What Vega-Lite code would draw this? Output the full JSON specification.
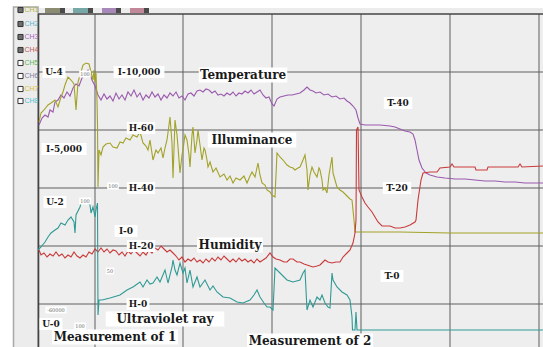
{
  "$schema": "https://vega.github.io/schema/vega-lite/v6.json",
  "width": 543,
  "height": 347,
  "padding": 0,
  "autosize": {"type": "none"},
  "background": "#ffffff",
  "view": {"fill": "#eeeeee", "stroke": null},
  "resolve": {"scale": {"color": "independent"}},
  "datasets": {
    "covers": [
      {"part": "top", "x1": 0, "x2": 543, "y1": 339, "y2": 347},
      {"part": "toolbar", "x1": 38, "x2": 543, "y1": 333.5, "y2": 339},
      {"part": "left", "x1": 0, "x2": 13, "y1": 0, "y2": 347}
    ],
    "panel": [{"x1": 13.5, "x2": 38, "y1": -2, "y2": 340}],
    "grid": [
      {"dir": "v", "pos": 95}, {"dir": "v", "pos": 183}, {"dir": "v", "pos": 272}, {"dir": "v", "pos": 361}, {"dir": "v", "pos": 450}, {"dir": "v", "pos": 539},
      {"dir": "h", "pos": 43}, {"dir": "h", "pos": 101}, {"dir": "h", "pos": 159}, {"dir": "h", "pos": 217}, {"dir": "h", "pos": 275}
    ],
    "borders": [
      {"x1": 38.5, "x2": 38.5, "y1": 0, "y2": 333},
      {"x1": 38, "x2": 543, "y1": 333, "y2": 333}
    ],
    "lines": [
      {"s":"temp","t":39,"v":222},{"s":"temp","t":42,"v":229},{"s":"temp","t":45,"v":232},{"s":"temp","t":48,"v":230},{"s":"temp","t":50,"v":237},{"s":"temp","t":53,"v":235},{"s":"temp","t":55,"v":245},{"s":"temp","t":58,"v":247},{"s":"temp","t":61,"v":252},{"s":"temp","t":64,"v":249},{"s":"temp","t":67,"v":255},{"s":"temp","t":70,"v":251},{"s":"temp","t":73,"v":259},{"s":"temp","t":76,"v":263},{"s":"temp","t":79,"v":261},{"s":"temp","t":82,"v":269},{"s":"temp","t":85,"v":273},{"s":"temp","t":88,"v":277},{"s":"temp","t":90,"v":273},{"s":"temp","t":92,"v":267},{"s":"temp","t":95,"v":261},{"s":"temp","t":98,"v":252},{"s":"temp","t":101,"v":247},{"s":"temp","t":104,"v":253},{"s":"temp","t":107,"v":248},{"s":"temp","t":110,"v":251},{"s":"temp","t":113,"v":246},{"s":"temp","t":116,"v":254},{"s":"temp","t":119,"v":248},{"s":"temp","t":122,"v":252},{"s":"temp","t":125,"v":247},{"s":"temp","t":128,"v":255},{"s":"temp","t":131,"v":251},{"s":"temp","t":134,"v":257},{"s":"temp","t":137,"v":250},{"s":"temp","t":140,"v":254},{"s":"temp","t":143,"v":247},{"s":"temp","t":146,"v":252},{"s":"temp","t":149,"v":249},{"s":"temp","t":152,"v":255},{"s":"temp","t":155,"v":250},{"s":"temp","t":158,"v":253},{"s":"temp","t":161,"v":247},{"s":"temp","t":164,"v":252},{"s":"temp","t":167,"v":249},{"s":"temp","t":170,"v":254},{"s":"temp","t":173,"v":251},{"s":"temp","t":176,"v":255},{"s":"temp","t":179,"v":249},{"s":"temp","t":182,"v":251},{"s":"temp","t":185,"v":247},{"s":"temp","t":188,"v":253},{"s":"temp","t":191,"v":254},{"s":"temp","t":194,"v":251},{"s":"temp","t":197,"v":256},{"s":"temp","t":200,"v":257},{"s":"temp","t":203,"v":255},{"s":"temp","t":206,"v":258},{"s":"temp","t":209,"v":257},{"s":"temp","t":212,"v":254},{"s":"temp","t":215,"v":256},{"s":"temp","t":218,"v":252},{"s":"temp","t":221,"v":253},{"s":"temp","t":224,"v":251},{"s":"temp","t":227,"v":254},{"s":"temp","t":230,"v":252},{"s":"temp","t":233,"v":255},{"s":"temp","t":236,"v":251},{"s":"temp","t":239,"v":254},{"s":"temp","t":242,"v":253},{"s":"temp","t":245,"v":256},{"s":"temp","t":248,"v":254},{"s":"temp","t":251,"v":257},{"s":"temp","t":254,"v":253},{"s":"temp","t":257,"v":255},{"s":"temp","t":260,"v":257},{"s":"temp","t":263,"v":252},{"s":"temp","t":266,"v":249},{"s":"temp","t":269,"v":250},{"s":"temp","t":272,"v":243},{"s":"temp","t":274,"v":241},{"s":"temp","t":277,"v":248},{"s":"temp","t":280,"v":250},{"s":"temp","t":284,"v":251},{"s":"temp","t":288,"v":252},{"s":"temp","t":292,"v":252},{"s":"temp","t":296,"v":253},{"s":"temp","t":300,"v":254},{"s":"temp","t":304,"v":257},{"s":"temp","t":307,"v":260},{"s":"temp","t":310,"v":257},{"s":"temp","t":313,"v":256},{"s":"temp","t":316,"v":254},{"s":"temp","t":320,"v":255},{"s":"temp","t":324,"v":252},{"s":"temp","t":328,"v":253},{"s":"temp","t":332,"v":250},{"s":"temp","t":336,"v":251},{"s":"temp","t":340,"v":248},{"s":"temp","t":344,"v":249},{"s":"temp","t":347,"v":246},{"s":"temp","t":350,"v":244},{"s":"temp","t":353,"v":241},{"s":"temp","t":356,"v":237},{"s":"temp","t":358,"v":229},{"s":"temp","t":360,"v":223},{"s":"temp","t":365,"v":222},{"s":"temp","t":380,"v":222},{"s":"temp","t":390,"v":221},{"s":"temp","t":395,"v":220},{"s":"temp","t":400,"v":218},{"s":"temp","t":405,"v":216},{"s":"temp","t":410,"v":215},{"s":"temp","t":413,"v":213},{"s":"temp","t":415,"v":207},{"s":"temp","t":417,"v":197},{"s":"temp","t":419,"v":187},{"s":"temp","t":422,"v":179},{"s":"temp","t":426,"v":174},{"s":"temp","t":430,"v":172},{"s":"temp","t":437,"v":170},{"s":"temp","t":445,"v":169},{"s":"temp","t":455,"v":168},{"s":"temp","t":465,"v":168},{"s":"temp","t":475,"v":167},{"s":"temp","t":485,"v":166},{"s":"temp","t":495,"v":166},{"s":"temp","t":505,"v":165},{"s":"temp","t":515,"v":165},{"s":"temp","t":525,"v":164},{"s":"temp","t":543,"v":164},
      {"s":"illum","t":39,"v":225},{"s":"illum","t":41,"v":234},{"s":"illum","t":44,"v":237},{"s":"illum","t":48,"v":242},{"s":"illum","t":51,"v":244},{"s":"illum","t":55,"v":247},{"s":"illum","t":58,"v":240},{"s":"illum","t":61,"v":250},{"s":"illum","t":63,"v":255},{"s":"illum","t":65,"v":262},{"s":"illum","t":68,"v":270},{"s":"illum","t":71,"v":267},{"s":"illum","t":74,"v":263},{"s":"illum","t":76,"v":237},{"s":"illum","t":78,"v":265},{"s":"illum","t":81,"v":275},{"s":"illum","t":83,"v":282},{"s":"illum","t":86,"v":284},{"s":"illum","t":89,"v":283},{"s":"illum","t":91,"v":275},{"s":"illum","t":93,"v":267},{"s":"illum","t":94,"v":277},{"s":"illum","t":95,"v":265},{"s":"illum","t":96,"v":274},{"s":"illum","t":97,"v":247},{"s":"illum","t":97.5,"v":222},{"s":"illum","t":98,"v":160},{"s":"illum","t":99,"v":197},{"s":"illum","t":101,"v":192},{"s":"illum","t":103,"v":200},{"s":"illum","t":106,"v":203},{"s":"illum","t":110,"v":204},{"s":"illum","t":113,"v":200},{"s":"illum","t":117,"v":199},{"s":"illum","t":120,"v":205},{"s":"illum","t":123,"v":204},{"s":"illum","t":126,"v":209},{"s":"illum","t":130,"v":207},{"s":"illum","t":133,"v":212},{"s":"illum","t":137,"v":210},{"s":"illum","t":140,"v":215},{"s":"illum","t":143,"v":204},{"s":"illum","t":146,"v":201},{"s":"illum","t":148,"v":197},{"s":"illum","t":150,"v":207},{"s":"illum","t":153,"v":187},{"s":"illum","t":156,"v":197},{"s":"illum","t":158,"v":194},{"s":"illum","t":161,"v":199},{"s":"illum","t":163,"v":189},{"s":"illum","t":165,"v":199},{"s":"illum","t":167,"v":207},{"s":"illum","t":169,"v":222},{"s":"illum","t":170,"v":230},{"s":"illum","t":172,"v":204},{"s":"illum","t":173,"v":169},{"s":"illum","t":175,"v":227},{"s":"illum","t":177,"v":212},{"s":"illum","t":178,"v":200},{"s":"illum","t":180,"v":174},{"s":"illum","t":182,"v":192},{"s":"illum","t":183,"v":197},{"s":"illum","t":185,"v":212},{"s":"illum","t":187,"v":207},{"s":"illum","t":189,"v":192},{"s":"illum","t":190,"v":180},{"s":"illum","t":192,"v":212},{"s":"illum","t":193,"v":220},{"s":"illum","t":195,"v":194},{"s":"illum","t":197,"v":207},{"s":"illum","t":198,"v":217},{"s":"illum","t":200,"v":202},{"s":"illum","t":202,"v":187},{"s":"illum","t":204,"v":199},{"s":"illum","t":205,"v":197},{"s":"illum","t":207,"v":187},{"s":"illum","t":208,"v":180},{"s":"illum","t":210,"v":185},{"s":"illum","t":213,"v":175},{"s":"illum","t":216,"v":179},{"s":"illum","t":220,"v":170},{"s":"illum","t":224,"v":173},{"s":"illum","t":227,"v":167},{"s":"illum","t":230,"v":171},{"s":"illum","t":233,"v":164},{"s":"illum","t":236,"v":169},{"s":"illum","t":240,"v":167},{"s":"illum","t":244,"v":171},{"s":"illum","t":247,"v":164},{"s":"illum","t":250,"v":171},{"s":"illum","t":252,"v":175},{"s":"illum","t":255,"v":170},{"s":"illum","t":258,"v":184},{"s":"illum","t":260,"v":172},{"s":"illum","t":262,"v":164},{"s":"illum","t":265,"v":162},{"s":"illum","t":267,"v":157},{"s":"illum","t":270,"v":155},{"s":"illum","t":272,"v":152},{"s":"illum","t":275,"v":150},{"s":"illum","t":277,"v":194},{"s":"illum","t":280,"v":190},{"s":"illum","t":283,"v":187},{"s":"illum","t":287,"v":182},{"s":"illum","t":290,"v":180},{"s":"illum","t":293,"v":179},{"s":"illum","t":295,"v":177},{"s":"illum","t":298,"v":179},{"s":"illum","t":300,"v":180},{"s":"illum","t":303,"v":187},{"s":"illum","t":305,"v":192},{"s":"illum","t":307,"v":177},{"s":"illum","t":308,"v":157},{"s":"illum","t":310,"v":172},{"s":"illum","t":312,"v":180},{"s":"illum","t":314,"v":175},{"s":"illum","t":317,"v":170},{"s":"illum","t":319,"v":179},{"s":"illum","t":320,"v":177},{"s":"illum","t":322,"v":167},{"s":"illum","t":323,"v":157},{"s":"illum","t":325,"v":159},{"s":"illum","t":327,"v":154},{"s":"illum","t":329,"v":172},{"s":"illum","t":332,"v":190},{"s":"illum","t":333,"v":174},{"s":"illum","t":335,"v":167},{"s":"illum","t":337,"v":160},{"s":"illum","t":340,"v":157},{"s":"illum","t":343,"v":155},{"s":"illum","t":346,"v":152},{"s":"illum","t":348,"v":150},{"s":"illum","t":350,"v":148},{"s":"illum","t":352,"v":147},{"s":"illum","t":353,"v":137},{"s":"illum","t":354,"v":127},{"s":"illum","t":355,"v":115},{"s":"illum","t":400,"v":115},{"s":"illum","t":450,"v":114},{"s":"illum","t":543,"v":114},
      {"s":"humid","t":39,"v":97},{"s":"humid","t":41,"v":92},{"s":"humid","t":44,"v":94},{"s":"humid","t":47,"v":90},{"s":"humid","t":50,"v":93},{"s":"humid","t":53,"v":91},{"s":"humid","t":56,"v":95},{"s":"humid","t":59,"v":91},{"s":"humid","t":62,"v":93},{"s":"humid","t":65,"v":89},{"s":"humid","t":68,"v":92},{"s":"humid","t":71,"v":90},{"s":"humid","t":74,"v":95},{"s":"humid","t":77,"v":91},{"s":"humid","t":80,"v":89},{"s":"humid","t":83,"v":92},{"s":"humid","t":86,"v":90},{"s":"humid","t":89,"v":95},{"s":"humid","t":92,"v":93},{"s":"humid","t":95,"v":98},{"s":"humid","t":98,"v":95},{"s":"humid","t":101,"v":99},{"s":"humid","t":104,"v":95},{"s":"humid","t":107,"v":98},{"s":"humid","t":110,"v":94},{"s":"humid","t":113,"v":97},{"s":"humid","t":116,"v":96},{"s":"humid","t":119,"v":92},{"s":"humid","t":122,"v":95},{"s":"humid","t":125,"v":91},{"s":"humid","t":128,"v":96},{"s":"humid","t":131,"v":93},{"s":"humid","t":134,"v":97},{"s":"humid","t":137,"v":94},{"s":"humid","t":140,"v":91},{"s":"humid","t":143,"v":95},{"s":"humid","t":146,"v":92},{"s":"humid","t":149,"v":97},{"s":"humid","t":152,"v":94},{"s":"humid","t":155,"v":99},{"s":"humid","t":158,"v":97},{"s":"humid","t":161,"v":101},{"s":"humid","t":164,"v":98},{"s":"humid","t":167,"v":95},{"s":"humid","t":170,"v":97},{"s":"humid","t":173,"v":94},{"s":"humid","t":176,"v":91},{"s":"humid","t":179,"v":87},{"s":"humid","t":182,"v":90},{"s":"humid","t":185,"v":85},{"s":"humid","t":188,"v":88},{"s":"humid","t":191,"v":86},{"s":"humid","t":194,"v":89},{"s":"humid","t":197,"v":85},{"s":"humid","t":200,"v":87},{"s":"humid","t":203,"v":84},{"s":"humid","t":206,"v":88},{"s":"humid","t":209,"v":85},{"s":"humid","t":212,"v":89},{"s":"humid","t":215,"v":86},{"s":"humid","t":218,"v":90},{"s":"humid","t":221,"v":87},{"s":"humid","t":224,"v":91},{"s":"humid","t":227,"v":88},{"s":"humid","t":230,"v":85},{"s":"humid","t":233,"v":88},{"s":"humid","t":236,"v":85},{"s":"humid","t":239,"v":89},{"s":"humid","t":242,"v":86},{"s":"humid","t":245,"v":88},{"s":"humid","t":248,"v":85},{"s":"humid","t":251,"v":87},{"s":"humid","t":254,"v":84},{"s":"humid","t":257,"v":88},{"s":"humid","t":260,"v":85},{"s":"humid","t":263,"v":87},{"s":"humid","t":266,"v":89},{"s":"humid","t":270,"v":94},{"s":"humid","t":273,"v":90},{"s":"humid","t":276,"v":88},{"s":"humid","t":280,"v":87},{"s":"humid","t":284,"v":85},{"s":"humid","t":287,"v":85},{"s":"humid","t":290,"v":88},{"s":"humid","t":293,"v":88},{"s":"humid","t":297,"v":85},{"s":"humid","t":300,"v":85},{"s":"humid","t":304,"v":83},{"s":"humid","t":307,"v":82},{"s":"humid","t":310,"v":81},{"s":"humid","t":313,"v":80},{"s":"humid","t":317,"v":81},{"s":"humid","t":320,"v":82},{"s":"humid","t":323,"v":85},{"s":"humid","t":325,"v":87},{"s":"humid","t":328,"v":85},{"s":"humid","t":332,"v":84},{"s":"humid","t":336,"v":85},{"s":"humid","t":340,"v":85},{"s":"humid","t":343,"v":90},{"s":"humid","t":347,"v":94},{"s":"humid","t":350,"v":97},{"s":"humid","t":353,"v":104},{"s":"humid","t":355,"v":114},{"s":"humid","t":356,"v":127},{"s":"humid","t":356.5,"v":217},{"s":"humid","t":358,"v":220},{"s":"humid","t":359,"v":157},{"s":"humid","t":362,"v":150},{"s":"humid","t":365,"v":144},{"s":"humid","t":368,"v":140},{"s":"humid","t":372,"v":135},{"s":"humid","t":375,"v":130},{"s":"humid","t":378,"v":125},{"s":"humid","t":382,"v":121},{"s":"humid","t":390,"v":121},{"s":"humid","t":395,"v":119},{"s":"humid","t":400,"v":119},{"s":"humid","t":405,"v":120},{"s":"humid","t":410,"v":122},{"s":"humid","t":415,"v":125},{"s":"humid","t":416,"v":127},{"s":"humid","t":418,"v":147},{"s":"humid","t":421,"v":167},{"s":"humid","t":423,"v":174},{"s":"humid","t":430,"v":175},{"s":"humid","t":437,"v":175},{"s":"humid","t":440,"v":179},{"s":"humid","t":450,"v":180},{"s":"humid","t":452,"v":183},{"s":"humid","t":454,"v":180},{"s":"humid","t":475,"v":180},{"s":"humid","t":476,"v":177},{"s":"humid","t":487,"v":177},{"s":"humid","t":488,"v":180},{"s":"humid","t":518,"v":180},{"s":"humid","t":520,"v":183},{"s":"humid","t":522,"v":180},{"s":"humid","t":543,"v":181},
      {"s":"uv","t":38,"v":97},{"s":"uv","t":41,"v":100},{"s":"uv","t":45,"v":105},{"s":"uv","t":48,"v":110},{"s":"uv","t":51,"v":114},{"s":"uv","t":55,"v":117},{"s":"uv","t":58,"v":119},{"s":"uv","t":61,"v":124},{"s":"uv","t":65,"v":122},{"s":"uv","t":68,"v":127},{"s":"uv","t":71,"v":130},{"s":"uv","t":74,"v":125},{"s":"uv","t":75,"v":114},{"s":"uv","t":76,"v":132},{"s":"uv","t":80,"v":140},{"s":"uv","t":81,"v":144},{"s":"uv","t":85,"v":147},{"s":"uv","t":88,"v":145},{"s":"uv","t":90,"v":142},{"s":"uv","t":91,"v":134},{"s":"uv","t":93,"v":140},{"s":"uv","t":95,"v":130},{"s":"uv","t":96,"v":137},{"s":"uv","t":97.5,"v":144},{"s":"uv","t":98,"v":32},{"s":"uv","t":99,"v":47},{"s":"uv","t":102,"v":47},{"s":"uv","t":110,"v":49},{"s":"uv","t":120,"v":52},{"s":"uv","t":127,"v":57},{"s":"uv","t":133,"v":60},{"s":"uv","t":140,"v":65},{"s":"uv","t":143,"v":60},{"s":"uv","t":147,"v":67},{"s":"uv","t":150,"v":63},{"s":"uv","t":153,"v":64},{"s":"uv","t":157,"v":70},{"s":"uv","t":160,"v":65},{"s":"uv","t":165,"v":77},{"s":"uv","t":168,"v":64},{"s":"uv","t":172,"v":80},{"s":"uv","t":173,"v":87},{"s":"uv","t":175,"v":77},{"s":"uv","t":177,"v":72},{"s":"uv","t":180,"v":84},{"s":"uv","t":183,"v":74},{"s":"uv","t":185,"v":79},{"s":"uv","t":187,"v":64},{"s":"uv","t":190,"v":77},{"s":"uv","t":193,"v":60},{"s":"uv","t":197,"v":70},{"s":"uv","t":200,"v":60},{"s":"uv","t":205,"v":67},{"s":"uv","t":210,"v":57},{"s":"uv","t":213,"v":61},{"s":"uv","t":217,"v":55},{"s":"uv","t":223,"v":50},{"s":"uv","t":230,"v":49},{"s":"uv","t":237,"v":45},{"s":"uv","t":243,"v":44},{"s":"uv","t":250,"v":47},{"s":"uv","t":254,"v":52},{"s":"uv","t":257,"v":57},{"s":"uv","t":260,"v":50},{"s":"uv","t":264,"v":44},{"s":"uv","t":267,"v":40},{"s":"uv","t":270,"v":40},{"s":"uv","t":273,"v":37},{"s":"uv","t":275,"v":79},{"s":"uv","t":280,"v":74},{"s":"uv","t":287,"v":67},{"s":"uv","t":293,"v":65},{"s":"uv","t":300,"v":67},{"s":"uv","t":303,"v":74},{"s":"uv","t":305,"v":77},{"s":"uv","t":307,"v":37},{"s":"uv","t":310,"v":47},{"s":"uv","t":313,"v":40},{"s":"uv","t":317,"v":50},{"s":"uv","t":320,"v":47},{"s":"uv","t":322,"v":52},{"s":"uv","t":325,"v":44},{"s":"uv","t":328,"v":40},{"s":"uv","t":330,"v":39},{"s":"uv","t":332,"v":74},{"s":"uv","t":333,"v":67},{"s":"uv","t":337,"v":60},{"s":"uv","t":342,"v":55},{"s":"uv","t":347,"v":52},{"s":"uv","t":350,"v":47},{"s":"uv","t":352,"v":30},{"s":"uv","t":352.5,"v":17},{"s":"uv","t":355,"v":17},{"s":"uv","t":356,"v":35},{"s":"uv","t":357,"v":17},{"s":"uv","t":543,"v":17}
    ],
    "labels": [
      {"text": "Temperature", "kind": "big", "t": 243, "v": 272},
      {"text": "Illuminance", "kind": "big", "t": 252, "v": 207},
      {"text": "Humidity", "kind": "big", "t": 230, "v": 102},
      {"text": "Ultraviolet ray", "kind": "big", "t": 165, "v": 28},
      {"text": "Measurement of 1", "kind": "big", "t": 115, "v": 10},
      {"text": "Measurement of 2", "kind": "big", "t": 310, "v": 6},
      {"text": "U-4", "kind": "small", "t": 54, "v": 275},
      {"text": "I-10,000", "kind": "small", "t": 139, "v": 275},
      {"text": "T-40", "kind": "small", "t": 398, "v": 244},
      {"text": "H-60", "kind": "small", "t": 141, "v": 219},
      {"text": "I-5,000", "kind": "small", "t": 64, "v": 198},
      {"text": "H-40", "kind": "small", "t": 141, "v": 159},
      {"text": "T-20", "kind": "small", "t": 397, "v": 159},
      {"text": "U-2", "kind": "small", "t": 55, "v": 145},
      {"text": "I-0", "kind": "small", "t": 126, "v": 116},
      {"text": "H-20", "kind": "small", "t": 141, "v": 101},
      {"text": "T-0", "kind": "small", "t": 392, "v": 71},
      {"text": "H-0", "kind": "small", "t": 138, "v": 43},
      {"text": "U-0", "kind": "small", "t": 51, "v": 23},
      {"text": "100", "kind": "tiny", "t": 85, "v": 273},
      {"text": "100", "kind": "tiny", "t": 113, "v": 161},
      {"text": "100", "kind": "tiny", "t": 85, "v": 146},
      {"text": "50", "kind": "tiny", "t": 110, "v": 76},
      {"text": "-60000", "kind": "tiny", "t": 56, "v": 37},
      {"text": "100", "kind": "tiny", "t": 80, "v": 21}
    ],
    "channels": [
      {"ch": "CH1", "checked": true, "v": 337},
      {"ch": "CH2", "checked": true, "v": 323},
      {"ch": "CH3", "checked": true, "v": 310},
      {"ch": "CH4", "checked": true, "v": 297},
      {"ch": "CH5", "checked": false, "v": 284},
      {"ch": "CH6", "checked": false, "v": 271},
      {"ch": "CH7", "checked": false, "v": 258},
      {"ch": "CH8", "checked": false, "v": 246}
    ],
    "toolbar": [
      {"ch": "CH1", "part": "btn", "x1": 45, "x2": 60},
      {"ch": "CH1", "part": "drop", "x1": 60, "x2": 65},
      {"ch": "CH2", "part": "btn", "x1": 73, "x2": 88},
      {"ch": "CH2", "part": "drop", "x1": 88, "x2": 93},
      {"ch": "CH3", "part": "btn", "x1": 102, "x2": 116},
      {"ch": "CH3", "part": "drop", "x1": 116, "x2": 121},
      {"ch": "CH4", "part": "btn", "x1": 130, "x2": 144},
      {"ch": "CH4", "part": "drop", "x1": 144, "x2": 149}
    ]
  },
  "layer": [
    {
      "data": {"name": "covers"},
      "mark": {"type": "rect"},
      "encoding": {
        "x": {"field": "x1", "type": "quantitative", "scale": {"domain": [0, 543], "nice": false, "zero": false}, "axis": null},
        "x2": {"field": "x2"},
        "y": {"field": "y1", "type": "quantitative", "scale": {"domain": [0, 347], "nice": false, "zero": false}, "axis": null},
        "y2": {"field": "y2"},
        "color": {"field": "part", "type": "nominal", "scale": {"domain": ["top", "toolbar", "left"], "range": ["#ffffff", "#ececec", "#ffffff"]}, "legend": null}
      }
    },
    {
      "data": {"name": "panel"},
      "mark": {"type": "rect", "fill": "#ececec", "stroke": "#a8a8a8", "strokeWidth": 1.5},
      "encoding": {
        "x": {"field": "x1", "type": "quantitative", "axis": null},
        "x2": {"field": "x2"},
        "y": {"field": "y1", "type": "quantitative", "axis": null},
        "y2": {"field": "y2"}
      }
    },
    {
      "data": {"name": "grid"},
      "transform": [
        {"calculate": "datum.dir == 'v' ? datum.pos : 38", "as": "x1"},
        {"calculate": "datum.dir == 'v' ? datum.pos : 543", "as": "x2"},
        {"calculate": "datum.dir == 'v' ? 0 : datum.pos", "as": "y1"},
        {"calculate": "datum.dir == 'v' ? 333 : datum.pos", "as": "y2"}
      ],
      "mark": {"type": "rule", "color": "#5e5e5e", "strokeWidth": 1},
      "encoding": {
        "x": {"field": "x1", "type": "quantitative", "axis": null},
        "x2": {"field": "x2"},
        "y": {"field": "y1", "type": "quantitative", "axis": null},
        "y2": {"field": "y2"}
      }
    },
    {
      "data": {"name": "borders"},
      "mark": {"type": "rule", "color": "#444444", "strokeWidth": 1.6},
      "encoding": {
        "x": {"field": "x1", "type": "quantitative", "axis": null},
        "x2": {"field": "x2"},
        "y": {"field": "y1", "type": "quantitative", "axis": null},
        "y2": {"field": "y2"}
      }
    },
    {
      "data": {"name": "lines"},
      "mark": {"type": "line", "strokeWidth": 1.1, "interpolate": "linear"},
      "encoding": {
        "x": {"field": "t", "type": "quantitative", "axis": null},
        "y": {"field": "v", "type": "quantitative", "axis": null},
        "color": {"field": "s", "type": "nominal", "scale": {"domain": ["temp", "illum", "humid", "uv"], "range": ["#9a5aae", "#a2a228", "#c93a3a", "#2f9a94"]}, "legend": null},
        "order": {"value": null}
      }
    },
    {
      "data": {"name": "labels"},
      "transform": [
        {"calculate": "datum.kind == 'big' ? 7.5 : (datum.kind == 'small' ? 5.6 : 3.2)", "as": "cw"},
        {"calculate": "(length(datum.text) * datum.cw + (datum.kind == 'tiny' ? 2 : 6)) / 2", "as": "hw"},
        {"calculate": "datum.kind == 'big' ? 7.5 : (datum.kind == 'small' ? 6 : 3.5)", "as": "hh"},
        {"calculate": "datum.t - datum.hw", "as": "x1"},
        {"calculate": "datum.t + datum.hw", "as": "x2"},
        {"calculate": "datum.v - datum.hh", "as": "y1"},
        {"calculate": "datum.v + datum.hh", "as": "y2"}
      ],
      "mark": {"type": "rect", "fill": "#ffffff"},
      "encoding": {
        "x": {"field": "x1", "type": "quantitative", "axis": null},
        "x2": {"field": "x2"},
        "y": {"field": "y1", "type": "quantitative", "axis": null},
        "y2": {"field": "y2"}
      }
    },
    {
      "data": {"name": "labels"},
      "transform": [{"filter": "datum.kind == 'big'"}],
      "mark": {"type": "text", "font": "DejaVu Serif", "fontWeight": "bold", "fontSize": 12, "align": "center", "baseline": "middle", "color": "#1a1a1a"},
      "encoding": {
        "x": {"field": "t", "type": "quantitative", "axis": null},
        "y": {"field": "v", "type": "quantitative", "axis": null},
        "text": {"field": "text"}
      }
    },
    {
      "data": {"name": "labels"},
      "transform": [{"filter": "datum.kind == 'small'"}],
      "mark": {"type": "text", "font": "DejaVu Serif", "fontWeight": "bold", "fontSize": 9, "align": "center", "baseline": "middle", "color": "#1a1a1a"},
      "encoding": {
        "x": {"field": "t", "type": "quantitative", "axis": null},
        "y": {"field": "v", "type": "quantitative", "axis": null},
        "text": {"field": "text"}
      }
    },
    {
      "data": {"name": "labels"},
      "transform": [{"filter": "datum.kind == 'tiny'"}],
      "mark": {"type": "text", "font": "DejaVu Serif", "fontSize": 5, "align": "center", "baseline": "middle", "color": "#6a6a6a"},
      "encoding": {
        "x": {"field": "t", "type": "quantitative", "axis": null},
        "y": {"field": "v", "type": "quantitative", "axis": null},
        "text": {"field": "text"}
      }
    },
    {
      "data": {"name": "channels"},
      "transform": [{"calculate": "20.5", "as": "cx"}],
      "mark": {"type": "point", "shape": "square", "size": 26, "filled": true, "stroke": "#333333", "strokeWidth": 1},
      "encoding": {
        "x": {"field": "cx", "type": "quantitative", "axis": null},
        "y": {"field": "v", "type": "quantitative", "axis": null},
        "fill": {"condition": {"test": "datum.checked", "value": "#6e6e6e"}, "value": "#ffffff"},
        "opacity": {"value": 1}
      }
    },
    {
      "data": {"name": "channels"},
      "transform": [{"calculate": "24.5", "as": "lx"}],
      "mark": {"type": "text", "font": "Liberation Sans", "fontSize": 7, "align": "left", "baseline": "middle"},
      "encoding": {
        "x": {"field": "lx", "type": "quantitative", "axis": null},
        "y": {"field": "v", "type": "quantitative", "axis": null},
        "text": {"field": "ch"},
        "color": {"field": "ch", "type": "nominal", "scale": {"domain": ["CH1", "CH2", "CH3", "CH4", "CH5", "CH6", "CH7", "CH8"], "range": ["#b4b43c", "#5ab4c8", "#a868c4", "#c05a5a", "#5ab45a", "#8282a0", "#d2c23c", "#52c0d0"]}, "legend": null}
      }
    },
    {
      "data": {"name": "toolbar"},
      "transform": [{"calculate": "334", "as": "y1"}, {"calculate": "339", "as": "y2"}],
      "mark": {"type": "rect"},
      "encoding": {
        "x": {"field": "x1", "type": "quantitative", "axis": null},
        "x2": {"field": "x2"},
        "y": {"field": "y1", "type": "quantitative", "axis": null},
        "y2": {"field": "y2"},
        "color": {"condition": {"test": "datum.part == 'drop'", "value": "#4a4a4a"}, "field": "ch", "type": "nominal", "scale": {"domain": ["CH1", "CH2", "CH3", "CH4"], "range": ["#8c8c72", "#76a8a8", "#a888b8", "#c08898"]}, "legend": null}
      }
    }
  ]
}
